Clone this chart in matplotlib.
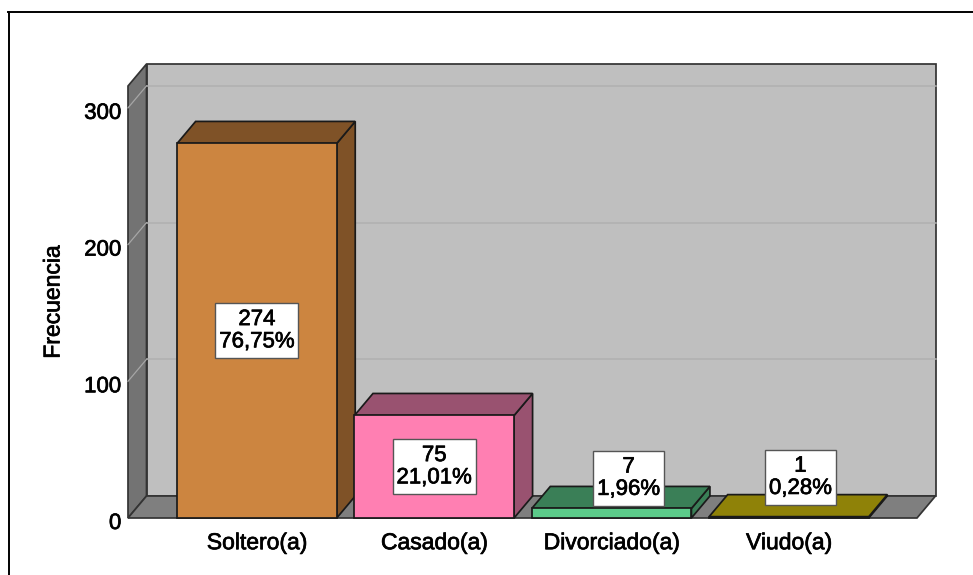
# Bar chart with a 3D look: estado civil, frequency and percentage per category
import matplotlib
matplotlib.use("Agg")
import matplotlib.pyplot as plt
import matplotlib.patheffects as pe
from matplotlib.patches import Polygon
from matplotlib.path import Path
from matplotlib.transforms import ScaledTranslation

categories = ["Soltero(a)", "Casado(a)", "Divorciado(a)", "Viudo(a)"]
frequencies = [274, 75, 7, 1]
percentages = ["76,75%", "21,01%", "1,96%", "0,28%"]
y_ticks = [0, 100, 200, 300]

front_colors = ["#CC8540", "#FF7FB2", "#5CCB8A", "#8F8208"]
dark_colors = ["#7F5227", "#995270", "#3A7F57", "#8F8208"]

W, H = 973, 575
plt.rcParams["font.family"] = ["Liberation Sans", "DejaVu Sans"]

# plot plane in pixels of the reference
LEFT, RIGHT, BOTTOM, TOP = 128, 917, 518, 86
DX = 18.5 / 177.33   # depth in category units
DY = 22 / 1.367      # depth in frequency units
BAR_W = 0.9

# the reference text is heavier than the regular face
heavy = [pe.withStroke(linewidth=0.5, foreground="black")]


def face(ax, pts, color, edge="#1a1a1a", lw=1.25, z=2):
    ax.add_patch(Polygon(pts, closed=True, facecolor=color, edgecolor=edge,
                         linewidth=lw, joinstyle="miter", zorder=z, clip_on=False))


def label_box(x, y, w, h, size):
    # white box with more room above and below the text than at the sides
    px, py = 0.17 * size, 0.27 * size
    return Path([(x - px, y - py), (x + w + px, y - py), (x + w + px, y + h + py),
                 (x - px, y + h + py), (x - px, y - py)], closed=True)


fig = plt.figure(figsize=(W / 100, H / 100), dpi=100, facecolor="white")
ax = fig.add_axes([LEFT / W, 1 - BOTTOM / H, (RIGHT - LEFT) / W, (BOTTOM - TOP) / H])
ax.set_xlim(-0.727, 3.722)
ax.set_ylim(0, 316)
ax.patch.set_visible(False)
for s in ax.spines.values():
    s.set_visible(False)

x0, x1 = ax.get_xlim()
y1 = ax.get_ylim()[1]

# walls and floor
face(ax, [(x0 + DX, DY), (x1 + DX, DY), (x1 + DX, y1 + DY), (x0 + DX, y1 + DY)], "#BFBFBF", edge="#333333")
face(ax, [(x0, 0), (x0 + DX, DY), (x0 + DX, y1 + DY), (x0, y1)], "#737373", edge="#333333")
face(ax, [(x0, 0), (x1, 0), (x1 + DX, DY), (x0 + DX, DY)], "#7F7F7F", edge="#333333")

# gridlines on the back wall and the left wall
for t in y_ticks[1:]:
    ax.plot([x0 + DX, x1 + DX], [t + DY, t + DY], color="#B0B0B0", lw=1.1, zorder=2.1, clip_on=False)
    ax.plot([x0, x0 + DX], [t, t + DY], color="#A6A6A6", lw=0.9, zorder=2.1, clip_on=False)

# bars, left to right so that each one covers what is behind it
for i, v in enumerate(frequencies):
    a, b = i - BAR_W / 2, i + BAR_W / 2
    z = 3 + i
    face(ax, [(b, 0), (b + DX, DY), (b + DX, v + DY), (b, v)], dark_colors[i], z=z)
    face(ax, [(a, v), (b, v), (b + DX, v + DY), (a + DX, v + DY)], dark_colors[i], z=z)
    face(ax, [(a, 0), (b, 0), (b, v), (a, v)], front_colors[i], z=z)

# value labels; the two small bars have theirs moved up and to the right
label_shift = [(0, 0), (0, 0), (17, -35), (11.5, -40)]
for i, v in enumerate(frequencies):
    sx, sy = label_shift[i]
    ax.annotate(f"{v}\n{percentages[i]}", (i, v / 2), xytext=(sx * 0.72, -sy * 0.72),
                textcoords="offset points", ha="center", va="center", fontsize=16,
                linespacing=1.08, zorder=10, annotation_clip=False, path_effects=heavy,
                bbox=dict(boxstyle=label_box, facecolor="white", edgecolor="#555555", linewidth=1.0))

ax.set_xticks(range(len(categories)))
ax.set_xticklabels(categories, fontsize=16.5, path_effects=heavy)
ax.set_yticks(y_ticks)
ax.set_yticklabels([str(t) for t in y_ticks], fontsize=16, path_effects=heavy)
ax.tick_params(axis="both", length=0)
ax.tick_params(axis="x", pad=9.5)
ax.tick_params(axis="y", pad=4.8)
shift = ScaledTranslation(0, -3 / 72 * 0.72, fig.dpi_scale_trans)
for lab in ax.get_yticklabels():
    lab.set_transform(lab.get_transform() + shift)

fig.text(53 / W, 1 - 302 / H, "Frecuencia", rotation=90, ha="center", va="center",
         fontsize=16.5, path_effects=heavy)

# outer frame, only top and left are visible in the crop
fig.add_artist(plt.Line2D([8.5 / W, 8.5 / W], [0, 1 - 11.5 / H], color="black", lw=1.4))
fig.add_artist(plt.Line2D([8 / W, 1], [1 - 11.5 / H, 1 - 11.5 / H], color="black", lw=1.4))

fig.savefig("out.png", dpi=100)
